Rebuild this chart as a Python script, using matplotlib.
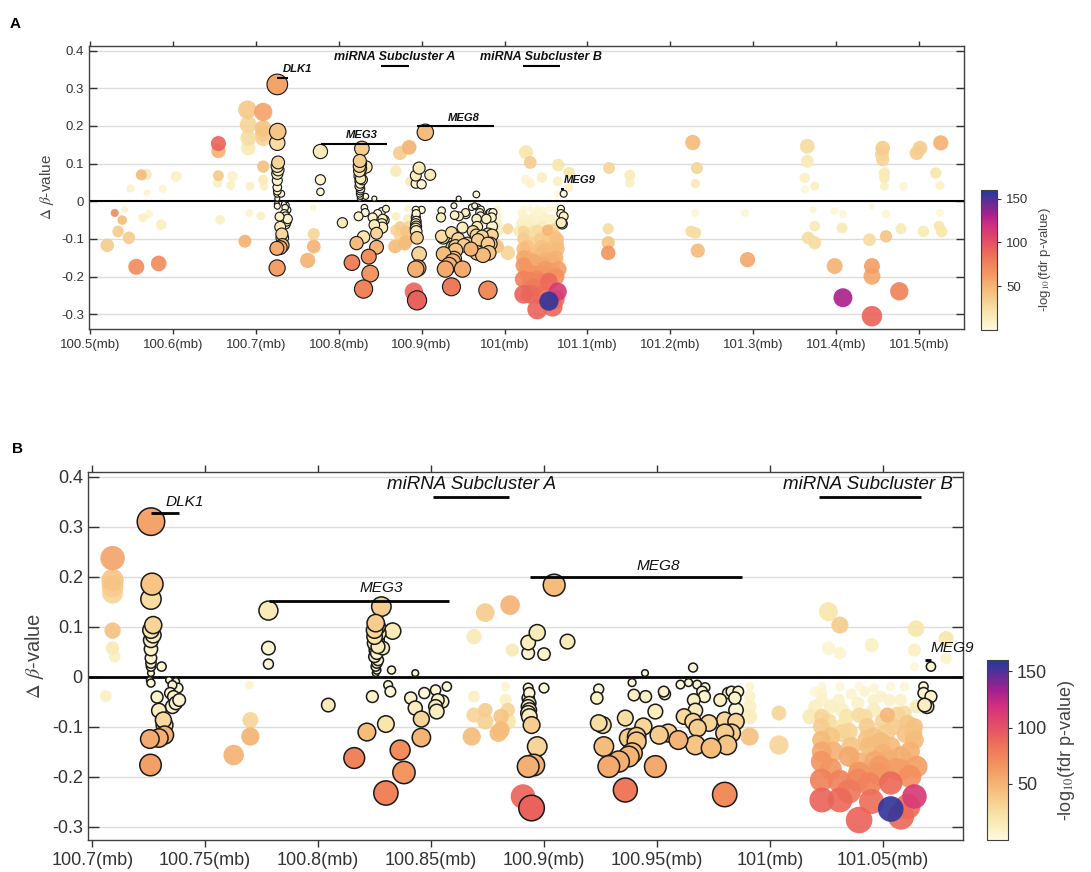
import numpy as np
import matplotlib
matplotlib.use("Agg")
import matplotlib.pyplot as plt
from matplotlib.colors import LinearSegmentedColormap, Normalize
from matplotlib.ticker import FuncFormatter

plt.rcParams['font.family'] = ['Liberation Sans', 'DejaVu Sans']
plt.rcParams['mathtext.fontset'] = 'stix'

# CpG sites: position (mb), delta beta, -log10(fdr p)
pos = [
    # 100.5 - 100.7
    100.521, 100.530, 100.534, 100.539, 100.542, 100.547, 100.549, 100.556, 100.562, 100.564,
    100.568, 100.569, 100.571, 100.583, 100.586, 100.588, 100.604, 100.654, 100.655, 100.655,
    100.655, 100.657, 100.670, 100.672, 100.687, 100.690, 100.691, 100.691, 100.691, 100.693,
    100.692,
    100.709, 100.709, 100.709, 100.709, 100.709, 100.709, 100.710, 100.706,
    # DLK1
    100.726, 100.7265, 100.726, 100.727, 100.726, 100.727, 100.726, 100.726, 100.726, 100.726,
    100.726, 100.7307, 100.726, 100.7255, 100.726, 100.7287, 100.7295, 100.7315, 100.732, 100.7255,
    100.7295, 100.732, 100.7258,
    100.734, 100.7355, 100.737, 100.738, 100.7345, 100.736, 100.7385, 100.737, 100.7355,
    100.7626, 100.770, 100.770, 100.7695,
    # MEG3
    100.778, 100.778, 100.778, 100.8045, 100.828,
    100.8255, 100.826, 100.825, 100.8265, 100.825, 100.826, 100.825, 100.8265, 100.8255, 100.826,
    100.825, 100.8265, 100.826, 100.8255, 100.826, 100.8255,
    100.833, 100.8286, 100.8325, 100.843, 100.831, 100.832, 100.824, 100.8216, 100.830, 100.816,
    100.830, 100.8363, 100.838, 100.841, 100.843, 100.8457, 100.8457, 100.847, 100.852, 100.852,
    100.853, 100.8525, 100.855, 100.857,
    # between MEG3 and MEG8
    100.868, 100.869, 100.869, 100.869, 100.874, 100.874, 100.874, 100.885, 100.886, 100.883,
    100.883, 100.881, 100.881, 100.884, 100.8798, 100.884, 100.8907,
    # MEG8
    100.8945, 100.893, 100.8955, 100.897, 100.8945,
    100.893, 100.8935, 100.893, 100.8935, 100.893, 100.8935, 100.893, 100.8935,
    100.900, 100.897, 100.893, 100.893, 100.900, 100.9104, 100.9045,
    100.9242, 100.9234, 100.9242, 100.926, 100.9265, 100.9287, 100.936, 100.9331, 100.9375, 100.939,
    100.9375, 100.941, 100.936, 100.9398, 100.939, 100.945, 100.944, 100.941, 100.9493, 100.9493,
    100.9447, 100.953, 100.9535, 100.951, 100.955, 100.9595, 100.9604, 100.964, 100.966, 100.9678,
    100.9663, 100.962, 100.966, 100.967, 100.967, 100.968, 100.970, 100.9713, 100.971, 100.973,
    100.974, 100.978, 100.980, 100.980, 100.981, 100.980, 100.9815, 100.983, 100.9845, 100.986,
    100.985, 100.985, 100.983,
    100.991, 100.991, 100.991, 100.991, 100.991, 101.004, 101.004,
    # miRNA subcluster B
    101.0259, 101.031, 101.0647, 101.078, 101.0451, 101.064, 101.078, 101.026, 101.031, 101.064,
    101.0178, 101.023, 101.0228, 101.0228, 101.023, 101.0228, 101.0228, 101.023, 101.023, 101.023,
    101.023,
    101.031, 101.0305, 101.032, 101.0325, 101.032, 101.031, 101.031,
    101.039, 101.0395, 101.0395, 101.039, 101.0395, 101.0395, 101.0395,
    101.046, 101.046, 101.046, 101.044, 101.046, 101.0465, 101.0485,
    101.052, 101.0535, 101.053, 101.0515, 101.0535, 101.052, 101.0535, 101.0535,
    101.0595, 101.058, 101.0595, 101.061, 101.064, 101.064, 101.058, 101.058, 101.062, 101.064,
    101.058, 101.061,
    101.0565, 101.0635, 101.027, 101.036, 101.050, 101.043, 101.036,
    101.020, 101.020, 101.026, 101.027, 101.028, 101.027, 101.034, 101.035, 101.035, 101.035,
    101.042, 101.042, 101.043, 101.044, 101.045, 101.049, 101.049, 101.050, 101.055, 101.056,
    101.060, 101.062, 101.065, 101.065, 101.048,
    # MEG9
    101.0713, 101.068, 101.068, 101.0713, 101.0685, 101.0695,
    # 101.1 - 101.55
    101.126, 101.151, 101.151, 101.125, 101.125, 101.125, 101.227, 101.232, 101.230, 101.230,
    101.225, 101.230, 101.233, 101.290, 101.293, 101.365, 101.365, 101.362, 101.374, 101.362,
    101.372, 101.374, 101.366, 101.374, 101.398, 101.408, 101.398, 101.408, 101.407, 101.440,
    101.443, 101.443, 101.443, 101.456, 101.455, 101.456, 101.458, 101.458, 101.458, 101.460,
    101.460, 101.476, 101.478, 101.481, 101.497, 101.501, 101.505, 101.526, 101.520, 101.525,
    101.525, 101.524, 101.527, 101.443,
]
dbeta = [
    -0.117, -0.031, -0.080, -0.050, -0.022, -0.097, 0.034, -0.174, 0.070, -0.044,
    0.071, 0.022, -0.034, -0.165, -0.062, 0.033, 0.066, 0.049, 0.153, 0.133,
    0.068, -0.049, 0.042, 0.066, -0.106, 0.243, 0.203, 0.168, 0.141, 0.040,
    -0.031,
    0.237, 0.193, 0.180, 0.167, 0.092, 0.057, 0.040, -0.039,
    0.310, 0.185, 0.155, 0.103, 0.093, 0.083, 0.073, 0.055, 0.037, 0.027,
    0.020, 0.020, 0.007, -0.007, -0.013, -0.041, -0.068, -0.087, -0.097, -0.125,
    -0.123, -0.117, -0.177,
    -0.007, -0.017, -0.010, -0.023, -0.033, -0.040, -0.047, -0.053, -0.060,
    -0.157, -0.120, -0.087, -0.017,
    0.132, 0.057, 0.025, -0.057, 0.140,
    0.107, 0.100, 0.093, 0.087, 0.080, 0.073, 0.067, 0.060, 0.053, 0.047,
    0.040, 0.033, 0.027, 0.020, 0.013, 0.007,
    0.091, 0.057, 0.013, 0.007, -0.017, -0.030, -0.040, -0.111, -0.095, -0.163,
    -0.233, -0.147, -0.192, -0.043, -0.063, -0.085, -0.122, -0.033, -0.027, -0.060,
    -0.047, -0.070, -0.050, -0.020,
    -0.120, -0.077, -0.040, 0.080, 0.128, -0.067, -0.090, 0.143, 0.053, -0.047,
    -0.020, -0.080, -0.107, -0.067, -0.113, -0.090, -0.240,
    -0.263, -0.180, -0.177, -0.140, -0.097,
    -0.023, -0.033, -0.043, -0.053, -0.060, -0.067, -0.073, -0.080,
    -0.023, 0.088, 0.068, 0.047, 0.045, 0.070, 0.183,
    -0.025, -0.043, -0.093, -0.097, -0.140, -0.180, -0.227, -0.170, -0.160, -0.153,
    -0.123, -0.120, -0.083, -0.037, -0.012, -0.040, -0.100, -0.130, -0.180, -0.070,
    0.007, -0.030, -0.035, -0.117, -0.113, -0.127, -0.016, -0.012, 0.018, -0.016,
    -0.047, -0.080, -0.090, -0.068, -0.137, -0.103, -0.030, -0.022, -0.040, -0.093,
    -0.143, -0.047, -0.087, -0.113, -0.137, -0.236, -0.033, -0.030, -0.043, -0.030,
    -0.067, -0.090, -0.113,
    -0.120, -0.020, -0.040, -0.060, -0.080, -0.073, -0.137,
    0.130, 0.103, 0.096, 0.076, 0.063, 0.053, 0.036, 0.057, 0.047, 0.020,
    -0.080, -0.080, -0.100, -0.127, -0.150, -0.170, -0.207, -0.247, -0.020, -0.033,
    -0.047,
    -0.020, -0.047, -0.067, -0.100, -0.113, -0.210, -0.247,
    -0.207, -0.287, -0.020, -0.053, -0.077, -0.173, -0.193,
    -0.023, -0.047, -0.067, -0.140, -0.120, -0.170, -0.180,
    -0.077, -0.020, -0.047, -0.113, -0.140, -0.167, -0.213, -0.265,
    -0.020, -0.047, -0.073, -0.093, -0.100, -0.127, -0.160, -0.187, -0.200, -0.240,
    -0.280, -0.260,
    -0.075, -0.113, -0.060, -0.035, -0.090, -0.100, -0.140,
    -0.030, -0.060, -0.090, -0.120, -0.150, -0.185, -0.080, -0.110, -0.160, -0.230,
    -0.030, -0.080, -0.125, -0.215, -0.250, -0.040, -0.130, -0.155, -0.100, -0.185,
    -0.115, -0.150, -0.060, -0.180, -0.195,
    0.020, -0.020, -0.033, -0.040, -0.057, -0.060,
    0.088, 0.069, 0.049, -0.073, -0.110, -0.137, 0.156, 0.088, 0.047, -0.031,
    -0.080, -0.084, -0.131, -0.031, -0.155, 0.146, 0.106, 0.062, 0.040, 0.031,
    -0.022, -0.066, -0.097, -0.110, -0.172, -0.256, -0.026, -0.034, -0.071, -0.102,
    -0.172, -0.199, -0.305, 0.141, 0.124, 0.110, 0.075, 0.062, 0.040, -0.034,
    -0.093, -0.239, -0.073, 0.040, 0.128, 0.141, -0.080, 0.155, 0.075, 0.042,
    -0.031, -0.066, -0.080, -0.013,
]
logp = [
    35, 70, 35, 45, 5, 35, 8, 70, 45, 10,
    15, 5, 5, 70, 12, 5, 10, 10, 90, 50,
    38, 10, 10, 8, 50, 38, 30, 25, 15, 10,
    5,
    58, 40, 35, 30, 42, 15, 10, 10,
    58, 40, 25, 30, 15, 12, 10, 8, 5, 5,
    3, 3, 3, 3, 3, 8, 12, 28, 15, 55,
    52, 50, 60,
    3, 3, 3, 3, 3, 5, 5, 5, 5,
    50, 50, 30, 5,
    15, 5, 3, 15, 35,
    35, 25, 30, 15, 20, 10, 10, 15, 8, 8,
    5, 5, 5, 3, 3, 3,
    15, 12, 3, 3, 3, 3, 8, 45, 20, 75,
    75, 70, 65, 8, 12, 30, 50, 3, 3, 10,
    8, 12, 8, 3,
    45, 30, 10, 15, 35, 35, 32, 50, 15, 10,
    5, 40, 45, 30, 45, 20, 90,
    92, 52, 50, 30, 35,
    3, 5, 5, 8, 8, 10, 10, 12,
    3, 15, 12, 5, 5, 15, 45,
    3, 10, 25, 25, 45, 55, 80, 52, 50, 45,
    35, 35, 25, 10, 3, 10, 30, 40, 55, 12,
    3, 8, 8, 35, 35, 50, 3, 3, 3, 3,
    10, 28, 30, 15, 40, 35, 5, 3, 5, 30,
    45, 10, 30, 35, 40, 70, 5, 5, 8, 5,
    5, 30, 35,
    42, 5, 8, 10, 12, 30, 30,
    20, 35, 20, 20, 10, 10, 8, 5, 5, 3,
    15, 30, 35, 45, 55, 65, 75, 90, 3, 5,
    8,
    3, 8, 10, 20, 30, 75, 88,
    72, 90, 3, 8, 25, 50, 65,
    3, 8, 12, 45, 40, 55, 62,
    48, 3, 8, 35, 45, 52, 88, 155,
    3, 8, 25, 40, 42, 45, 52, 60, 68, 112,
    88, 85,
    30, 42, 10, 5, 30, 35, 40,
    3, 10, 25, 40, 50, 65, 20, 30, 55, 80,
    5, 25, 40, 75, 85, 8, 45, 50, 35, 60,
    40, 50, 15, 60, 65,
    3, 3, 5, 8, 12, 10,
    30, 15, 10, 25, 40, 65, 45, 30, 15, 3,
    25, 25, 45, 3, 55, 25, 15, 10, 10, 3,
    3, 15, 25, 25, 50, 130, 3, 3, 15, 25,
    60, 55, 90, 35, 30, 30, 15, 15, 10, 3,
    40, 75, 15, 3, 35, 35, 15, 50, 20, 8,
    3, 20, 20, 3,
]

# gene / miRNA annotations
genes = ['DLK1', 'MEG3', 'MEG8', 'MEG9']
gene_start = [100.7262, 100.7782, 100.894, 101.0685]
gene_end = [100.7386, 100.8578, 100.9875, 101.0714]
gene_y = [0.328, 0.152, 0.200, 0.033]
gene_label_x = [100.7325, 100.828, 100.9505, 101.071]
gene_label_y = [0.350, 0.177, 0.222, 0.057]
mirna = ['miRNA Subcluster A', 'miRNA Subcluster B']
mirna_start = [100.851, 101.0218]
mirna_end = [100.8847, 101.0668]
mirna_label_x = [100.868, 101.0435]

pos = np.array(pos)
dbeta = np.array(dbeta)
logp = np.array(logp)

# sites inside a gene get a black outline
in_gene = np.zeros(len(pos), dtype=bool)
for s, e in zip(gene_start, gene_end):
    in_gene |= (pos >= s - 0.003) & (pos <= e + 0.003)

cmap = LinearSegmentedColormap.from_list('fdr', [
    (0.0, '#fdf9dc'), (0.12, '#f8e7ad'), (0.28, '#f5bd7c'), (0.42, '#f3925e'),
    (0.55, '#ec6a5a'), (0.65, '#e04a6a'), (0.75, '#cf2f80'), (0.83, '#a4208f'),
    (1.0, '#1f3a9c')])
norm = Normalize(vmin=0, vmax=160)

fig = plt.figure(figsize=(10.91, 8.72), dpi=100)
axA = fig.add_axes([0.0816, 0.6227, 0.802, 0.325])
axB = fig.add_axes([0.0804, 0.0367, 0.8023, 0.4224])
caxA = fig.add_axes([0.8992, 0.6216, 0.0147, 0.1606])
caxB = fig.add_axes([0.9047, 0.0367, 0.0192, 0.2064])

txt = '#333333'


def draw_panel(ax, cax, xlim, ylim, xticks, scale, fs, mfs):
    for flag in (False, True):
        m = in_gene == flag
        order = np.argsort(logp[m])
        d = (3 + 44 * np.sqrt(np.abs(dbeta[m][order]))) * scale
        ax.scatter(pos[m][order], dbeta[m][order], s=(d * 0.72) ** 2,
                   c=logp[m][order], cmap=cmap, norm=norm,
                   edgecolors='#1a1a1a' if flag else 'none',
                   linewidths=1.1 * scale if flag else 0,
                   alpha=1.0 if flag else 0.92, zorder=3 if flag else 2)
    ax.axhline(0, color='black', lw=2.0 * scale, zorder=2.5)
    ax.set_xlim(*xlim)
    ax.set_ylim(*ylim)
    yt = [-0.3, -0.2, -0.1, 0, 0.1, 0.2, 0.3, 0.4]
    ax.set_yticks(yt)
    for y in yt:
        if y != 0:
            ax.axhline(y, color='#dcdcdc', lw=1.0, zorder=0)
    ax.set_xticks(xticks)
    ax.xaxis.set_major_formatter(FuncFormatter(lambda v, p: f'{round(v, 3):g}(mb)'))
    ax.yaxis.set_major_formatter(FuncFormatter(lambda v, p: f'{round(v, 2) + 0:g}'))
    ax.tick_params(axis='x', direction='out', top=True, length=5 * scale,
                   labelsize=fs, colors=txt, width=1)
    ax.tick_params(axis='y', direction='in', right=True, length=8 * scale,
                   labelsize=fs, colors=txt, width=1)
    for sp in ax.spines.values():
        sp.set_color('#404040')
        sp.set_linewidth(1.0)
    ax.set_ylabel(r'$\Delta$ $\beta$-value', fontsize=fs + 1.5, color='#444444', labelpad=4)

    gw = 'bold' if scale < 1 else 'normal'
    for name, s, e, gy, lx, ly in zip(genes, gene_start, gene_end, gene_y,
                                      gene_label_x, gene_label_y):
        ax.plot([s, e], [gy, gy], color='black', lw=2.0 * scale, zorder=4,
                solid_capstyle='butt')
        ha = 'left' if name in ('DLK1', 'MEG9') else 'center'
        ax.text(lx, ly, name, ha=ha, va='center', style='italic',
                fontsize=fs * 0.85, weight=gw, color='#111111', zorder=5)
    for name, s, e, lx in zip(mirna, mirna_start, mirna_end, mirna_label_x):
        ax.plot([s, e], [0.36, 0.36], color='black', lw=2.0 * scale, zorder=4,
                solid_capstyle='butt')
        ax.text(lx, 0.384, name, ha='center', va='center', style='italic',
                fontsize=mfs, weight=gw, color='#111111', zorder=5)

    cb = fig.colorbar(plt.cm.ScalarMappable(norm=norm, cmap=cmap), cax=cax)
    cb.set_ticks([50, 100, 150])
    cb.ax.tick_params(labelsize=fs, colors=txt, length=3)
    cb.outline.set_edgecolor('#404040')
    cb.set_label(r'-log$_{10}$(fdr p-value)', fontsize=fs, color='#444444', labelpad=6)


draw_panel(axA, caxA, (100.499, 101.554), (-0.339, 0.413),
           [100.5, 100.6, 100.7, 100.8, 100.9, 101.0, 101.1, 101.2, 101.3, 101.4, 101.5],
           0.75, 9.5, 9.0)
draw_panel(axB, caxB, (100.698, 101.0855), (-0.327, 0.41),
           [100.7, 100.75, 100.8, 100.85, 100.9, 100.95, 101.0, 101.05],
           1.0, 13, 13.5)

fig.text(0.0137, 0.972, 'A', fontsize=11, weight='bold', va='center', ha='center')
fig.text(0.0156, 0.485, 'B', fontsize=11, weight='bold', va='center', ha='center')

fig.savefig('out.png', dpi=100)
